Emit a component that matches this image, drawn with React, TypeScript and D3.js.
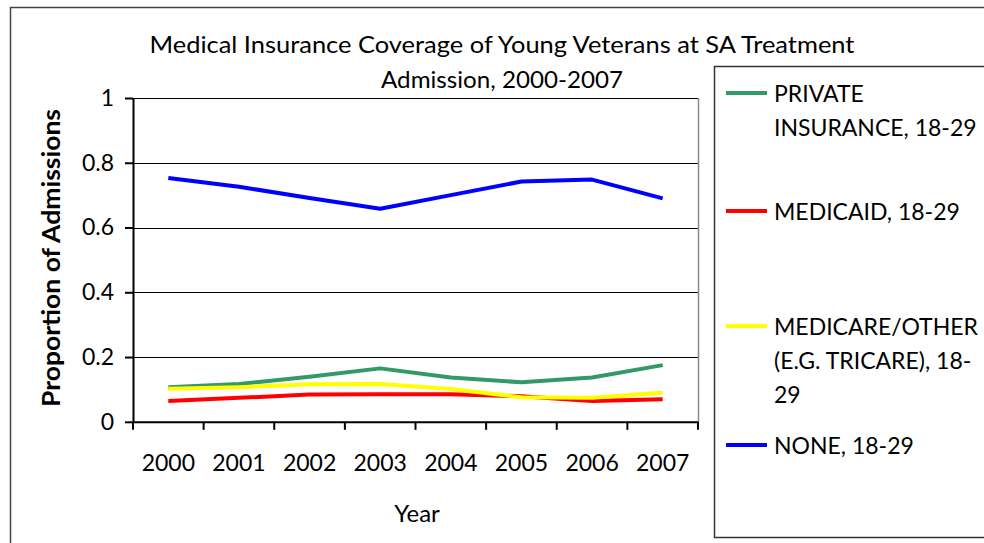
import React, { useEffect, useRef } from 'react';
import * as d3 from 'd3';

const years = ['2000', '2001', '2002', '2003', '2004', '2005', '2006', '2007'];
const privateIns = [0.107, 0.117, 0.139, 0.165, 0.137, 0.122, 0.137, 0.175];
const medicaid = [0.064, 0.074, 0.084, 0.085, 0.085, 0.079, 0.064, 0.07];
const medicareOther = [0.102, 0.107, 0.116, 0.117, 0.101, 0.076, 0.074, 0.09];
const none = [0.753, 0.726, 0.691, 0.658, 0.7, 0.742, 0.748, 0.69];
const yTicks = [0, 0.2, 0.4, 0.6, 0.8, 1];
const titleLines = ['Medical Insurance Coverage of Young Veterans at SA Treatment', 'Admission, 2000-2007'];

const series = [
  { name: ['PRIVATE', 'INSURANCE, 18-29'], values: privateIns, color: '#339966' },
  { name: ['MEDICAID, 18-29'], values: medicaid, color: '#ff0000' },
  { name: ['MEDICARE/OTHER', '(E.G. TRICARE), 18-', '29'], values: medicareOther, color: '#ffff00' },
  { name: ['NONE, 18-29'], values: none, color: '#0000ff' },
];

const font = 'Lato, "Open Sans", sans-serif';

export default function App() {
  const ref = useRef<SVGSVGElement>(null);

  useEffect(() => {
    const width = 984, height = 543;
    const margin = { top: 98, right: 286, bottom: 121, left: 133 };
    const svg = d3.select(ref.current);
    svg.selectAll('*').remove();

    svg.append('rect')
      .attr('width', width).attr('height', height).attr('fill', '#fff');
    // outer chart border
    svg.append('rect')
      .attr('x', 10.5).attr('y', 7.5)
      .attr('width', 1000).attr('height', 600)
      .attr('fill', 'none').attr('stroke', '#444').attr('stroke-width', 1.5);

    const x = d3.scaleBand()
      .domain(years)
      .range([margin.left, width - margin.right]);
    const y = d3.scaleLinear()
      .domain([0, 1])
      .range([height - margin.bottom - 0.2, margin.top]);

    // gridlines
    svg.append('g')
      .selectAll('line').data(yTicks.filter(d => d > 0)).enter().append('line')
      .attr('x1', margin.left).attr('x2', width - margin.right)
      .attr('y1', d => Math.round(y(d)) + 0.5).attr('y2', d => Math.round(y(d)) + 0.5)
      .attr('stroke', '#000').attr('stroke-width', 1.2);

    // right plot edge
    svg.append('line')
      .attr('x1', width - margin.right + 0.5).attr('x2', width - margin.right + 0.5)
      .attr('y1', margin.top).attr('y2', y(0))
      .attr('stroke', '#8a8a8a').attr('stroke-width', 1.5);

    const yAxis = g => g
      .attr('transform', `translate(${margin.left},0)`)
      .call(d3.axisLeft(y).tickValues(yTicks).tickSize(8).tickSizeOuter(0).tickPadding(11)
        .tickFormat(d => d3.format('')(+(+d).toFixed(1))))
      .call(g => g.selectAll('path, line').attr('stroke', '#000').attr('stroke-width', 2))
      .call(g => g.selectAll('text').attr('font-family', font).attr('font-size', 23).attr('fill', '#000'));

    const xAxis = g => g
      .attr('transform', `translate(0,${y(0)})`)
      .call(d3.axisBottom(x).tickSize(0).tickPadding(33))
      .call(g => g.select('.domain').attr('stroke', '#000').attr('stroke-width', 2))
      .call(g => g.selectAll('text').attr('font-family', font).attr('font-size', 23).attr('fill', '#000'));

    svg.append('g').call(xAxis);
    // x ticks at category boundaries
    svg.append('g')
      .selectAll('line').data([...years.map(d => x(d)), x.range()[1]]).enter().append('line')
      .attr('x1', d => d).attr('x2', d => d)
      .attr('y1', y(0)).attr('y2', y(0) + 8)
      .attr('stroke', '#000').attr('stroke-width', 2);
    svg.append('g').call(yAxis);

    const line = d3.line<number>()
      .x((d, i) => x(years[i]) + x.bandwidth() / 2)
      .y(d => y(d));

    svg.append('g')
      .selectAll('path').data(series).enter().append('path')
      .attr('d', d => line(d.values))
      .attr('fill', 'none')
      .attr('stroke', d => d.color)
      .attr('stroke-width', 4)
      .attr('stroke-linejoin', 'round');

    // title
    svg.append('g')
      .selectAll('text').data(titleLines).enter().append('text')
      .attr('x', 502).attr('y', (d, i) => 53 + i * 35)
      .attr('text-anchor', 'middle')
      .attr('font-family', font).attr('font-size', 24)
      .attr('textLength', (d, i) => (i === 0 ? 705 : 242))
      .attr('lengthAdjust', 'spacingAndGlyphs')
      .text(d => d);

    // axis titles
    svg.append('text')
      .attr('transform', `translate(60,258) rotate(-90)`)
      .attr('text-anchor', 'middle')
      .attr('font-family', font).attr('font-size', 24).attr('font-weight', 'bold')
      .attr('textLength', 298).attr('lengthAdjust', 'spacingAndGlyphs')
      .text('Proportion of Admissions');
    svg.append('text')
      .attr('x', 417).attr('y', 522)
      .attr('text-anchor', 'middle')
      .attr('font-family', font).attr('font-size', 24)
      .text('Year');

    // legend
    const legend = svg.append('g');
    legend.append('rect')
      .attr('x', 714.5).attr('y', 66.5).attr('width', 300).attr('height', 471)
      .attr('fill', '#fff').attr('stroke', '#333').attr('stroke-width', 1.5);
    const legendY = [93, 211, 326, 445];
    const item = legend.selectAll('g.item').data(series).enter().append('g')
      .attr('class', 'item')
      .attr('transform', (d, i) => `translate(0,${legendY[i]})`);
    item.append('line')
      .attr('x1', 726).attr('x2', 767)
      .attr('stroke', d => d.color).attr('stroke-width', 4);
    item.selectAll('text').data(d => d.name).enter().append('text')
      .attr('x', 774).attr('y', (d, i) => 9 + i * 34)
      .attr('font-family', font).attr('font-size', 23)
      .text(d => d);
  }, []);

  return (
    <svg ref={ref} width={984} height={543}
      style={{ position: 'absolute', left: 0, top: 0, display: 'block' }} />
  );
}
